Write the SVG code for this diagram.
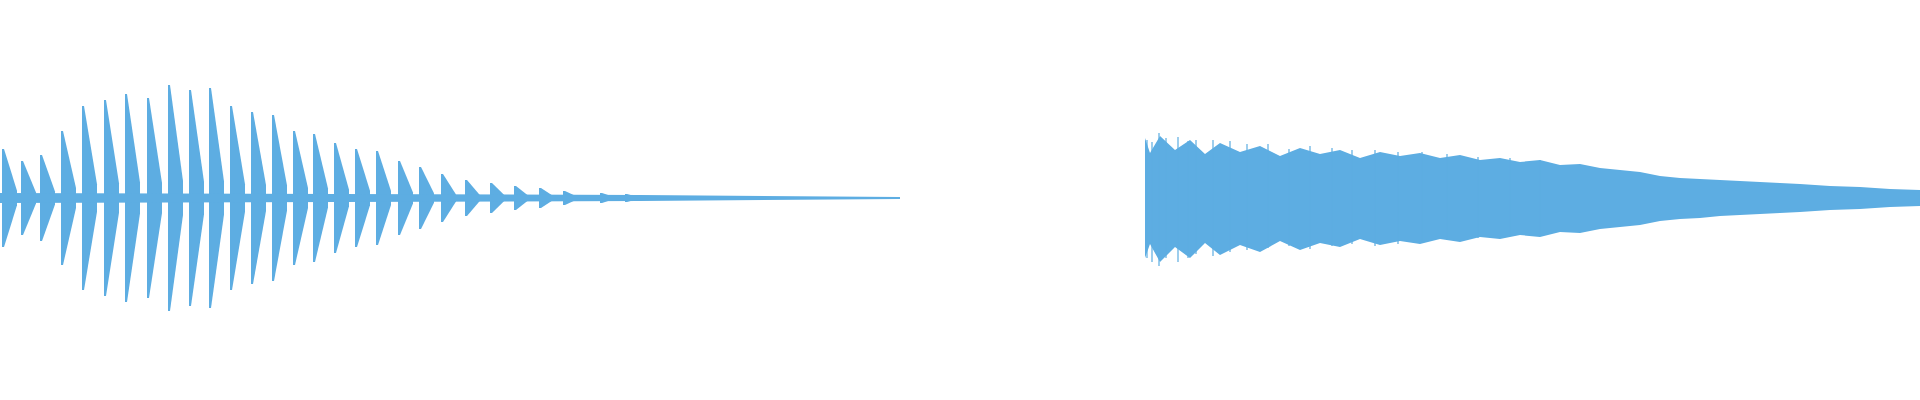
<svg xmlns="http://www.w3.org/2000/svg" width="1920" height="400" viewBox="0 0 1920 400">
<style>.w{fill:#5dade2}.s{stroke:#5dade2;stroke-width:1.2}</style>
<defs><path id="b" d="M0,-1 L2,-1 L15,-0.15 L15,0.15 L2,1 L0,1 Z"/></defs>
<rect width="1920" height="400" fill="#fff"/>
<g class="w">
<use href="#b" transform="translate(2,198) scale(1,49)"/>
<use href="#b" transform="translate(21,198) scale(1,37)"/>
<use href="#b" transform="translate(40,198) scale(1,43)"/>
<use href="#b" transform="translate(61,198) scale(1,67)"/>
<use href="#b" transform="translate(82,198) scale(1,92)"/>
<use href="#b" transform="translate(104,198) scale(1,98)"/>
<use href="#b" transform="translate(125,198) scale(1,104)"/>
<use href="#b" transform="translate(147,198) scale(1,100)"/>
<use href="#b" transform="translate(168,198) scale(1,113)"/>
<use href="#b" transform="translate(189,198) scale(1,108)"/>
<use href="#b" transform="translate(209,198) scale(1,110)"/>
<use href="#b" transform="translate(230,198) scale(1,92)"/>
<use href="#b" transform="translate(251,198) scale(1,86)"/>
<use href="#b" transform="translate(272,198) scale(1,83)"/>
<use href="#b" transform="translate(293,198) scale(1,67)"/>
<use href="#b" transform="translate(313,198) scale(1,64)"/>
<use href="#b" transform="translate(334,198) scale(1,55)"/>
<use href="#b" transform="translate(355,198) scale(1,49)"/>
<use href="#b" transform="translate(376,198) scale(1,47)"/>
<use href="#b" transform="translate(398,198) scale(1,37)"/>
<use href="#b" transform="translate(419,198) scale(1,31)"/>
<use href="#b" transform="translate(441,198) scale(1,24)"/>
<use href="#b" transform="translate(465,198) scale(1,18)"/>
<use href="#b" transform="translate(490,198) scale(1,15)"/>
<use href="#b" transform="translate(514,198) scale(1,12)"/>
<use href="#b" transform="translate(539,198) scale(1,10)"/>
<use href="#b" transform="translate(563,198) scale(1,7)"/>
<use href="#b" transform="translate(600,198) scale(1,5)"/>
<use href="#b" transform="translate(625,198) scale(1,4)"/>
<path d="M0,193 L640,195 L900,197 L900,199 L640,201 L0,203 Z"/>
<polygon points="1145,138 1150,153 1160,136 1175,150 1190,140 1205,154 1220,143 1240,152 1260,146 1280,156 1300,148 1320,154 1340,150 1360,158 1380,152 1400,156 1420,153 1440,158 1460,155 1480,160 1500,158 1520,162 1540,160 1560,165 1580,164 1600,168 1620,170 1640,172 1660,176 1680,178 1700,179 1720,180 1740,181 1760,182 1780,183 1800,184 1830,186 1860,187 1890,189 1920,190 1920,206 1890,207 1860,209 1830,210 1800,212 1780,213 1760,214 1740,215 1720,216 1700,218 1680,219 1660,221 1640,225 1620,227 1600,229 1580,233 1560,232 1540,237 1520,235 1500,239 1480,237 1460,242 1440,239 1420,244 1400,241 1380,245 1360,239 1340,247 1320,243 1300,250 1280,241 1260,252 1240,245 1220,255 1205,243 1190,258 1175,247 1160,262 1150,244 1145,258"/>
</g>
<g class="s">
<path d="M1147,140V258 M1152,142V262 M1159,133V266 M1166,138V258 M1178,137V262 M1188,141V258 M1196,140V254 M1213,140V256 M1230,141V252 M1247,144V250 M1268,144V248 M1289,149V246 M1310,146V249 M1332,148V246 M1352,150V244 M1375,150V246 M1398,152V244 M1422,152V243 M1447,154V240 M1478,157V238 M1510,158V236 M1540,160V234"/>
</g>
</svg>
